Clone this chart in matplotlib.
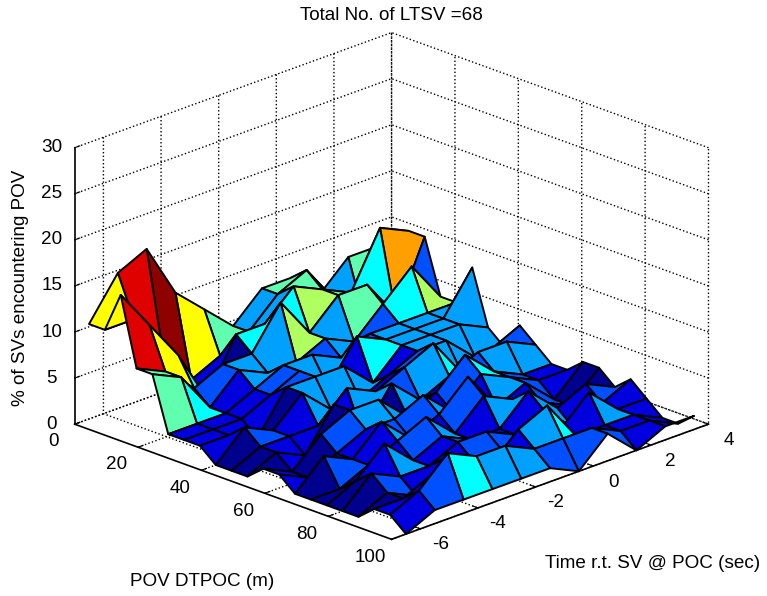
import matplotlib
matplotlib.use('Agg')
import matplotlib.pyplot as plt
import numpy as np

plt.rcParams['font.family'] = ['Liberation Sans', 'DejaVu Sans']
plt.rcParams['grid.linestyle'] = ':'
plt.rcParams['grid.color'] = 'k'
plt.rcParams['grid.linewidth'] = 1.0
plt.rcParams['axes.unicode_minus'] = False

# Time r.t. SV @ POC (sec), POV DTPOC (m)
time_vals = [-6.5, -5.5, -4.5, -3.5, -2.5, -1.5, -0.5, 0.5, 1.5, 2.5, 3.5]
dtpoc_vals = [0, 5, 10, 15, 20, 25, 30, 35, 40, 45, 50, 55, 60, 65, 70, 75, 80, 85, 90, 95, 100]
total_ltsv = 68

# number of SVs per bin, one row per DTPOC value
counts = [
    [7, 10, 11, 7, 5, 3, 5, 5, 3, 5, 5],
    [7, 7, 4, 1, 2, 3, 5, 6, 3, 1, 6],
    [10, 7, 4, 0, 4, 4, 6, 5, 4, 8, 7],
    [5, 4, 2, 3, 3, 6, 3, 5, 5, 2, 7],
    [5, 4, 1, 3, 2, 2, 3, 2, 4, 6, 3],
    [1, 1, 1, 2, 3, 3, 2, 3, 3, 3, 3],
    [1, 1, 1, 2, 3, 1, 4, 3, 3, 3, 6],
    [1, 1, 0, 3, 3, 3, 1, 3, 3, 3, 2],
    [0, 2, 1, 3, 1, 1, 2, 3, 3, 1, 1],
    [0, 1, 1, 1, 3, 2, 3, 4, 1, 2, 3],
    [0, 1, 0, 3, 0, 3, 1, 2, 3, 3, 2],
    [1, 0, 2, 3, 3, 1, 2, 4, 2, 1, 1],
    [1, 0, 1, 2, 2, 3, 1, 3, 2, 1, 1],
    [0, 2, 1, 3, 1, 2, 4, 1, 2, 0, 2],
    [0, 0, 1, 2, 3, 1, 3, 2, 1, 0, 2],
    [0, 1, 3, 1, 2, 1, 1, 3, 1, 2, 1],
    [0, 2, 1, 1, 2, 2, 1, 2, 0, 1, 2],
    [0, 1, 0, 2, 1, 1, 2, 1, 3, 1, 1],
    [1, 1, 2, 1, 1, 3, 4, 1, 1, 1, 0],
    [1, 2, 4, 3, 3, 2, 2, 2, 1, 1, 0],
    [0, 1, 1, 1, 1, 1, 0, 2, 0, 1, 1],
]
# face colour for each count, as in the reference
count_colors = ['#00008f', '#0000df', '#0050ff', '#00a0ff', '#00ffff', '#60ffb0',
                '#afff60', '#ffff00', '#ff9f00', '#ff4000', '#df0000', '#8f0000']

counts = np.array(counts, dtype=int)
pct = counts / total_ltsv * 100
T, X = np.meshgrid(time_vals, dtpoc_vals)
face_colors = np.array([matplotlib.colors.to_rgba(c) for c in count_colors])[counts]

fig = plt.figure(figsize=(7.67, 5.96), dpi=100)
ax = fig.add_axes([0, 4 / 596, 1, 1], projection='3d', proj_type='ortho')
ax.view_init(elev=21.3, azim=-45)
ax.set_box_aspect((1, 1, 0.662), zoom=1.14)

surf = ax.plot_surface(X, T, pct, rstride=1, cstride=1, facecolors=face_colors,
                       edgecolor='k', linewidth=1.4, shade=False, antialiased=True)
surf.set_clip_on(False)

ax.set_xlim(0, 100)
ax.set_ylim(-7, 4)
ax.set_zlim(0, 30)
ax.set_xticks([0, 20, 40, 60, 80, 100])
ax.set_yticks([-6, -4, -2, 0, 2, 4])
ax.set_zticks([0, 5, 10, 15, 20, 25, 30])
ax.zaxis.set_ticks_position('lower')

for axis in (ax.xaxis, ax.yaxis, ax.zaxis):
    axis.pane.set_facecolor((1, 1, 1, 0))
    axis.pane.set_edgecolor((1, 1, 1, 0))
    axis.line.set_color('k')
    axis.line.set_linewidth(1.2)
    axis._axinfo['tick']['inward_factor'] = 0.0
    axis._axinfo['tick']['outward_factor'] = 0.2
ax.tick_params(labelsize=13.6)
ax.tick_params(axis='x', pad=7)
ax.tick_params(axis='y', pad=6)
ax.tick_params(axis='z', pad=0)
plt.setp(ax.get_xticklabels() + ax.get_yticklabels(), va='bottom')
plt.setp(ax.get_zticklabels(), va='center')

fig.text(391 / 767, 1 - 15 / 596, 'Total No. of LTSV =68', ha='center', va='center', fontsize=13.6)
fig.text(202 / 767, 1 - 581 / 596, 'POV DTPOC (m)', ha='center', va='center', fontsize=13.6)
fig.text(653 / 767, 1 - 564 / 596, 'Time r.t. SV @ POC (sec)', ha='center', va='center', fontsize=13.6)
fig.text(21 / 767, 1 - 288 / 596, '% of SVs encountering POV', ha='center', va='center', rotation=90, fontsize=13.6)

plt.savefig('out.png', dpi=100)
